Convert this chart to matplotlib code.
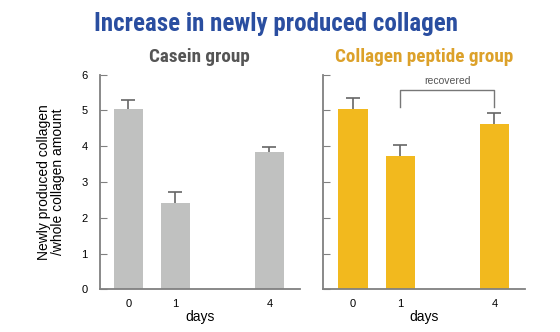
import numpy as np
import matplotlib.pyplot as plt

days = ['0', '1', '4']
pos = [0, 1, 3]
casein = [5.03, 2.41, 3.83]
casein_err = [0.26, 0.30, 0.16]
peptide = [5.03, 3.73, 4.63]
peptide_err = [0.32, 0.31, 0.31]

gray = '#c0c1c0'
gold = '#f2b91e'
axcol = '#808080'
cond = ['Roboto Condensed', 'DejaVu Sans']

plt.rcParams['font.family'] = ['Liberation Sans', 'DejaVu Sans']
fig = plt.figure(figsize=(5.6, 3.32), dpi=100)

ax1 = fig.add_axes([0.1786, 0.1286, 0.357, 0.6464])
ax2 = fig.add_axes([0.5768, 0.1286, 0.3607, 0.6464])

for ax, vals, err, col, xl in [(ax1, casein, casein_err, gray, -0.606),
                               (ax2, peptide, peptide_err, gold, -0.638)]:
    ax.bar(pos, vals, width=0.62, color=col, zorder=3)
    # symmetric bars drawn behind, so only the upper half shows
    ax.errorbar(pos, vals, yerr=err, fmt='none',
                ecolor='#666666', elinewidth=1.2, capsize=5, capthick=1.2, zorder=2)
    ax.set_xlim(xl, 3.65)
    ax.set_ylim(0, 6)
    ax.set_xticks(pos)
    ax.set_xticklabels(days, fontsize=8)
    ax.tick_params(axis='x', length=0, pad=7)
    ax.tick_params(axis='y', direction='in', length=5, color=axcol, labelsize=8, pad=9)
    ax.set_yticks(range(7))
    for s in ['top', 'right']:
        ax.spines[s].set_visible(False)
    for s in ['left', 'bottom']:
        ax.spines[s].set_color(axcol)
        ax.spines[s].set_linewidth(1.3)
        ax.spines[s].set_zorder(4)
    ax.set_xlabel('days', fontsize=10, labelpad=1)

ax2.set_yticklabels([])
ax1.set_ylabel('Newly produced collagen\n/whole collagen amount', fontsize=10, labelpad=12,
               linespacing=1.0)

# bracket for "recovered"
ax2.plot([pos[1], pos[1], pos[2], pos[2]], [5.10, 5.56, 5.56, 5.10], color='#777777', lw=1)
ax2.text((pos[1] + pos[2]) / 2, 5.68, 'recovered', ha='center', va='bottom',
         fontsize=7.5, color='#555555')

fig.text(0.492, 0.907, 'Increase in newly produced collagen', ha='center', va='baseline',
         fontsize=18, fontweight='bold', color='#2a4ea0', family=cond)
fig.text(0.356, 0.813, 'Casein group', ha='center', va='baseline',
         fontsize=13.8, fontweight='bold', color='#555555', family=cond)
fig.text(0.757, 0.813, 'Collagen peptide group', ha='center', va='baseline',
         fontsize=13.8, fontweight='bold', color='#dca12a', family=cond)

fig.savefig('out.png', dpi=100)
